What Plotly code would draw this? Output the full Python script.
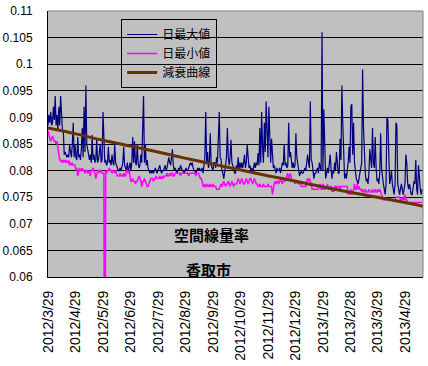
import plotly.graph_objects as go
import pandas as pd

start_date = "2012-03-29"

# daily maximum (µSv/h), one value per day from 2012-03-29
max_vals = [
    0.0885, 0.0905, 0.089, 0.091, 0.0885, 0.089, 0.092, 0.0895, 0.094, 0.0885,
    0.0905, 0.0875, 0.092, 0.0885, 0.094, 0.0885, 0.0875, 0.0875, 0.083, 0.0835,
    0.083, 0.0825, 0.083, 0.0825, 0.0848, 0.083, 0.0825, 0.085, 0.089, 0.0825,
    0.085, 0.0825, 0.082, 0.0863, 0.0825, 0.083, 0.082, 0.084, 0.088, 0.0825,
    0.092, 0.0835, 0.096, 0.085, 0.084, 0.0825, 0.082, 0.083, 0.0815, 0.0867,
    0.082, 0.083, 0.0815, 0.082, 0.086, 0.0815, 0.082, 0.0835, 0.085, 0.0815,
    0.082, 0.091, 0.085, 0.0815, 0.082, 0.081, 0.0815, 0.0845, 0.0815, 0.082,
    0.081, 0.083, 0.0815, 0.081, 0.085, 0.0815, 0.081, 0.0805, 0.080, 0.080,
    0.0805, 0.080, 0.081, 0.0815, 0.0845, 0.081, 0.0805, 0.080, 0.0815, 0.080,
    0.0805, 0.0815, 0.080, 0.0815, 0.0863, 0.0815, 0.0855, 0.0815, 0.081, 0.085,
    0.0815, 0.0805, 0.081, 0.083, 0.0815, 0.088, 0.094, 0.0815, 0.085, 0.081,
    0.082, 0.0805, 0.080, 0.0795, 0.080, 0.0795, 0.080, 0.0795, 0.080, 0.0805,
    0.080, 0.0795, 0.080, 0.0805, 0.081, 0.080, 0.0795, 0.080, 0.080, 0.0805,
    0.081, 0.080, 0.0805, 0.0815, 0.0825, 0.0815, 0.081, 0.0825, 0.084, 0.081,
    0.080, 0.0805, 0.080, 0.0795, 0.080, 0.0805, 0.080, 0.081, 0.0805, 0.080,
    0.080, 0.0795, 0.080, 0.0805, 0.080, 0.080, 0.0805, 0.081, 0.0815, 0.081,
    0.0815, 0.0805, 0.080, 0.080, 0.0795, 0.080, 0.0805, 0.080, 0.0805, 0.080,
    0.080, 0.0805, 0.0795, 0.081, 0.0825, 0.091, 0.0815, 0.0835, 0.0805, 0.0815,
    0.087, 0.081, 0.0805, 0.080, 0.0815, 0.0815, 0.0805, 0.0825, 0.0815, 0.085,
    0.091, 0.0825, 0.082, 0.080, 0.0795, 0.0785, 0.0805, 0.081, 0.0825, 0.088,
    0.0825, 0.081, 0.0825, 0.0858, 0.0815, 0.081, 0.0805, 0.0795, 0.0795, 0.081,
    0.0805, 0.0825, 0.080, 0.0815, 0.0805, 0.0815, 0.0805, 0.0815, 0.083, 0.0805,
    0.0815, 0.0848, 0.0815, 0.0805, 0.081, 0.080, 0.0805, 0.0795, 0.0805, 0.0815,
    0.0805, 0.0815, 0.081, 0.0833, 0.081, 0.088, 0.0815, 0.091, 0.0845, 0.0815,
    0.089, 0.0835, 0.093, 0.085, 0.0825, 0.092, 0.0845, 0.0815, 0.086, 0.0815,
    0.0805, 0.081, 0.080, 0.0795, 0.0805, 0.080, 0.080, 0.0805, 0.0795, 0.0805,
    0.0815, 0.081, 0.085, 0.081, 0.0815, 0.0805, 0.081, 0.089, 0.0825, 0.0835,
    0.081, 0.0805, 0.0815, 0.0805, 0.081, 0.087, 0.0825, 0.0815, 0.0805, 0.079,
    0.0795, 0.080, 0.0795, 0.0795, 0.080, 0.0805, 0.080, 0.0815, 0.083, 0.0815,
    0.0805, 0.093, 0.082, 0.0815, 0.080, 0.0785, 0.0795, 0.0795, 0.080, 0.0805,
    0.0795, 0.0815, 0.0805, 0.080, 0.106, 0.080, 0.0915, 0.0805, 0.0785, 0.0795,
    0.0805, 0.0795, 0.0815, 0.083, 0.0805, 0.0785, 0.080, 0.0795, 0.0815, 0.080,
    0.0835, 0.081, 0.0795, 0.0795, 0.086, 0.082, 0.096, 0.089, 0.0805, 0.0785,
    0.0795, 0.0785, 0.080, 0.0815, 0.0845, 0.0815, 0.092, 0.0925, 0.083, 0.089,
    0.0815, 0.0795, 0.0785, 0.078, 0.0775, 0.0785, 0.080, 0.0805, 0.0815, 0.099,
    0.088, 0.0815, 0.0795, 0.078, 0.0785, 0.0775, 0.0795, 0.084, 0.0815, 0.0805,
    0.088, 0.0815, 0.0805, 0.0863, 0.0805, 0.078, 0.0785, 0.0775, 0.0795, 0.087,
    0.0805, 0.0785, 0.0775, 0.0765, 0.0755, 0.0775, 0.090, 0.0895, 0.0795, 0.0775,
    0.0785, 0.080, 0.0775, 0.0765, 0.0755, 0.0775, 0.089, 0.0885, 0.0775, 0.0765,
    0.0755, 0.0765, 0.0775, 0.0765, 0.0755, 0.0765, 0.0775, 0.083, 0.0815, 0.0775,
    0.0765, 0.0775, 0.0765, 0.0755, 0.0755, 0.0765, 0.078, 0.0775, 0.082, 0.0765,
    0.0755, 0.081, 0.0775, 0.0765, 0.0755, 0.0765,
]

# daily minimum (µSv/h), one value per day from 2012-03-29
min_vals = [
    0.0875, 0.0865, 0.086, 0.0855, 0.086, 0.0865, 0.086, 0.0855, 0.0855, 0.085,
    0.0855, 0.0845, 0.083, 0.082, 0.082, 0.0815, 0.082, 0.0815,
    0.082, 0.0815, 0.082, 0.0815, 0.0815, 0.082, 0.081, 0.0815, 0.081, 0.0815, 0.081, 0.081,
    0.081, 0.080, 0.0805, 0.079, 0.080, 0.0805,
    0.080, 0.080, 0.0805, 0.080, 0.080, 0.0795, 0.080, 0.080, 0.0795, 0.080,
    0.0795, 0.079, 0.080, 0.080, 0.0805, 0.080, 0.0795, 0.0785, 0.0795, 0.080,
    0.080, 0.0795, 0.080, 0.080, 0.0795, 0.0795,
    0.0795, 0.0,
    0.080, 0.0795, 0.080, 0.080, 0.0805, 0.080, 0.080, 0.0795, 0.080, 0.080, 0.0795, 0.080, 0.0795, 0.079,
    0.079, 0.079, 0.0795, 0.079, 0.079, 0.079, 0.0795, 0.079, 0.079, 0.080, 0.080, 0.0795, 0.080,
    0.0785, 0.078, 0.078, 0.0785, 0.078, 0.078, 0.0775, 0.078, 0.078, 0.0785,
    0.079, 0.0785, 0.078, 0.077, 0.078, 0.078, 0.0785, 0.078, 0.0775, 0.077,
    0.077, 0.0775, 0.078, 0.0785, 0.0785, 0.0785, 0.078, 0.0785, 0.0785, 0.079,
    0.0785, 0.0785, 0.0785, 0.079, 0.0785, 0.0785, 0.079, 0.0785, 0.079, 0.079,
    0.079, 0.0795, 0.079, 0.079, 0.0795, 0.079, 0.0795, 0.0795, 0.079, 0.079,
    0.0795, 0.0795, 0.0795, 0.0795, 0.0795, 0.0795, 0.079, 0.0795, 0.0795, 0.0795,
    0.0795, 0.0795, 0.0795, 0.0795, 0.0795, 0.079, 0.0795, 0.0795, 0.0795, 0.0795,
    0.0795, 0.0795, 0.0795, 0.079, 0.0795, 0.0795, 0.0795, 0.079, 0.0785, 0.0785,
    0.078, 0.077, 0.077, 0.0775, 0.077, 0.077, 0.0775, 0.077, 0.077, 0.0775, 0.077, 0.077, 0.0775, 0.077, 0.077,
    0.077, 0.0765, 0.0765, 0.0765, 0.0765, 0.077,
    0.0775, 0.077, 0.0775, 0.078, 0.0775, 0.077, 0.0775, 0.0775, 0.078, 0.0775,
    0.077, 0.0775, 0.078, 0.0775, 0.077, 0.0775, 0.0775,
    0.0775, 0.078, 0.0785, 0.078, 0.0775, 0.078, 0.0785, 0.078, 0.0775, 0.0775,
    0.078, 0.0785, 0.078, 0.0775, 0.078, 0.0785, 0.0785, 0.078, 0.0775, 0.078,
    0.0785, 0.078, 0.0775, 0.0775,
    0.077, 0.077, 0.0775, 0.077, 0.077, 0.077, 0.0775, 0.077, 0.077, 0.077,
    0.077, 0.0775, 0.077, 0.077, 0.077, 0.077,
    0.0755, 0.077,
    0.0775, 0.078, 0.0775, 0.078, 0.078, 0.0775, 0.078, 0.0785, 0.078, 0.0775, 0.078, 0.078,
    0.078, 0.0785, 0.079, 0.0795, 0.0785, 0.079, 0.0795, 0.0785, 0.078,
    0.078, 0.078, 0.0775, 0.078, 0.078, 0.0775, 0.078, 0.0775, 0.0775,
    0.077, 0.077, 0.077, 0.077, 0.077, 0.077,
    0.078, 0.0785, 0.078, 0.0785, 0.078, 0.0775,
    0.0765, 0.0765, 0.0765, 0.0765, 0.0765, 0.0765, 0.0765,
    0.0765, 0.077, 0.0775, 0.0765, 0.0765, 0.0775, 0.0765, 0.0765, 0.077, 0.0765,
    0.0775, 0.0765, 0.0765, 0.077,
    0.077, 0.076, 0.0765, 0.076, 0.077, 0.077, 0.0765, 0.077, 0.077, 0.077, 0.0765, 0.077, 0.077,
    0.077, 0.077, 0.077, 0.077, 0.077, 0.077,
    0.0755, 0.076, 0.0755, 0.0765, 0.0755, 0.076,
    0.0765, 0.0775, 0.0765, 0.0765, 0.0775, 0.0765, 0.077, 0.0765, 0.0765,
    0.076, 0.0765, 0.076, 0.076, 0.0765, 0.076, 0.076, 0.076, 0.0765, 0.076,
    0.076, 0.076, 0.0765, 0.076, 0.076, 0.0765, 0.076, 0.076, 0.0765, 0.076,
    0.0765, 0.076, 0.0755, 0.075, 0.0745, 0.0745,
    0.0745, 0.0745, 0.0745, 0.0745, 0.0745, 0.0745, 0.0745, 0.0745, 0.0745, 0.0745, 0.0745, 0.0745,
    0.075, 0.075, 0.075, 0.075, 0.075,
    0.0745, 0.0745, 0.075, 0.0745, 0.0745, 0.0755, 0.0745, 0.0745,
    0.074, 0.074, 0.074, 0.074, 0.074, 0.074, 0.074, 0.074, 0.074, 0.074,
    0.074, 0.074, 0.074, 0.074, 0.074, 0.074, 0.074,
]

# decay curve read at monthly points
decay_dates = ["2012-03-29", "2012-04-29", "2012-05-29", "2012-06-29", "2012-07-29",
               "2012-08-29", "2012-09-29", "2012-10-29", "2012-11-29", "2012-12-29",
               "2013-01-29", "2013-02-28", "2013-03-29", "2013-04-29", "2013-05-19"]
decay_vals = [0.0880, 0.0869, 0.0857, 0.0846, 0.0835,
              0.0823, 0.0812, 0.0801, 0.0790, 0.0780,
              0.0769, 0.0759, 0.0750, 0.0740, 0.0733]

tick_dates = ["2012-03-29", "2012-04-29", "2012-05-29", "2012-06-29", "2012-07-29",
              "2012-08-29", "2012-09-29", "2012-10-29", "2012-11-29", "2012-12-29",
              "2013-01-29", "2013-02-28", "2013-03-29", "2013-04-29"]
tick_labels = ["2012/3/29", "2012/4/29", "2012/5/29", "2012/6/29", "2012/7/29",
               "2012/8/29", "2012/9/29", "2012/10/29", "2012/11/29", "2012/12/29",
               "2013/1/29", "2013/2/28", "2013/3/29", "2013/4/29"]

y_ticks = [0.06, 0.065, 0.07, 0.075, 0.08, 0.085, 0.09, 0.095, 0.1, 0.105, 0.11]
y_labels = ["0.06", "0.065", "0.07", "0.075", "0.08", "0.085", "0.09", "0.095", "0.1", "0.105", "0.11"]

max_dates = pd.date_range(start_date, periods=len(max_vals), freq="D")
min_dates = pd.date_range(start_date, periods=len(min_vals), freq="D")

fig = go.Figure()
fig.add_trace(go.Scatter(x=max_dates, y=max_vals, mode="lines", name="日最大値",
                         line=dict(color="#000080", width=1.2)))
fig.add_trace(go.Scatter(x=min_dates, y=min_vals, mode="lines", name="日最小値",
                         line=dict(color="#FF00FF", width=1.5)))
fig.add_trace(go.Scatter(x=pd.to_datetime(decay_dates), y=decay_vals, mode="lines",
                         name="減衰曲線", line=dict(color="#663300", width=3, shape="spline")))

fig.update_layout(
    width=428, height=366,
    margin=dict(l=48, r=5, t=11, b=89, autoexpand=False),
    paper_bgcolor="white",
    plot_bgcolor="#C0C0C0",
    showlegend=True,
    legend=dict(x=0.195, y=0.97, xanchor="left", yanchor="top",
                bgcolor="rgba(0,0,0,0)", bordercolor="black", borderwidth=1,
                font=dict(family="Noto Sans CJK JP", size=12, color="black"),
                tracegroupgap=0, itemwidth=30),
    xaxis=dict(type="date", range=["2012-03-29", "2013-05-19"],
               tickvals=pd.to_datetime(tick_dates), ticktext=tick_labels,
               tickangle=-90, showgrid=False, showline=True, linecolor="black",
               linewidth=1, ticks="", ticklabelstandoff=7, automargin=False,
               tickfont=dict(family="Liberation Sans", size=14, color="black"),
               zeroline=False),
    yaxis=dict(range=[0.06, 0.11], tickvals=y_ticks, ticktext=y_labels,
               showgrid=True, gridcolor="black", gridwidth=1,
               showline=True, linecolor="black", linewidth=1, ticks="",
               ticklabelstandoff=12, automargin=False,
               tickfont=dict(family="Liberation Sans", size=12, color="black"),
               zeroline=False),
    shapes=[
        dict(type="line", xref="paper", yref="paper", x0=0, x1=1, y0=1, y1=1,
             line=dict(color="#808080", width=1)),
        dict(type="line", xref="paper", yref="paper", x0=1, x1=1, y0=0, y1=1,
             line=dict(color="#808080", width=1)),
    ],
    annotations=[
        dict(text="<b>空間線量率</b>", xref="paper", yref="paper", x=0.437, y=0.158,
             xanchor="center", yanchor="middle", showarrow=False,
             font=dict(family="Noto Sans CJK JP", size=15, color="black")),
        dict(text="<b>香取市</b>", xref="paper", yref="paper", x=0.427, y=0.03,
             xanchor="center", yanchor="middle", showarrow=False,
             font=dict(family="Noto Sans CJK JP", size=15, color="black")),
    ],
)

fig.write_html("out.html", config={"displayModeBar": False},
               post_script="document.body.style.margin='0';")
